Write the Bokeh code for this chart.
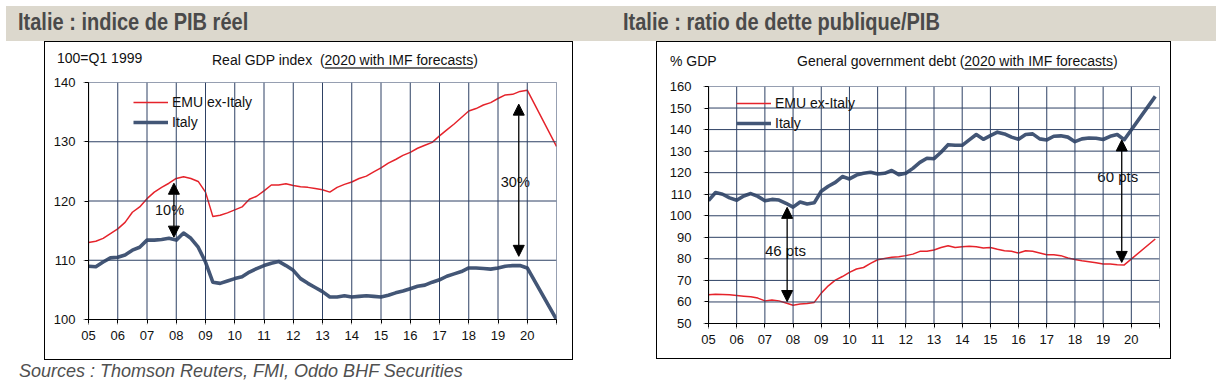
import numpy as np
from bokeh.plotting import figure
from bokeh.models import (Range1d, FixedTicker, Legend, LegendItem, Arrow,
                          NormalHead, Div, Spacer, ColumnDataSource)
from bokeh.layouts import column, row
from bokeh.embed import file_html
from bokeh.resources import INLINE
from bokeh.core.properties import value

FONT = "Liberation Sans"

# ---------------- data ----------------
x_ticks = list(range(5, 22))
x_tick_labels = ["05", "06", "07", "08", "09", "10", "11", "12",
                 "13", "14", "15", "16", "17", "18", "19", "20"]

series_names = ["EMU ex-Italy", "Italy"]

# Real GDP index, quarterly 2005 -> end 2019 (100 = Q1 1999)
gdp_emu = [113.0, 113.2, 113.7, 114.5, 115.3, 116.4, 118.1, 119.0, 120.4, 121.5, 122.3, 123.0,
           123.8, 124.1, 123.8, 123.3, 121.5, 117.4, 117.6, 118.0, 118.5, 119.0, 120.3, 120.8,
           121.7, 122.7, 122.7, 122.9, 122.6, 122.4, 122.3, 122.1, 121.9, 121.5, 122.3, 122.8,
           123.2, 123.8, 124.2, 124.9, 125.6, 126.4, 127.0, 127.7, 128.2, 128.9, 129.4, 129.9,
           131.0, 132.0, 133.0, 134.1, 135.2, 135.6, 136.2, 136.6, 137.3, 137.9, 138.0, 138.5,
           138.7]
gdp_italy = [109.0, 108.9, 109.7, 110.4, 110.5, 110.9, 111.7, 112.2, 113.4, 113.4, 113.5, 113.7,
             113.4, 114.6, 113.7, 112.2, 109.7, 106.3, 106.1, 106.5, 106.9, 107.2, 108.0, 108.6,
             109.1, 109.5, 109.8, 109.1, 108.3, 106.9, 106.1, 105.4, 104.7, 103.8, 103.8, 104.0,
             103.8, 103.9, 104.0, 103.9, 103.8, 104.1, 104.5, 104.8, 105.2, 105.6, 105.8, 106.3,
             106.7, 107.3, 107.7, 108.1, 108.7, 108.7, 108.6, 108.5, 108.7, 109.0, 109.1, 109.1,
             108.7]
gdp_forecast_emu = 129.2      # 2020, IMF forecast
gdp_forecast_italy = 100.0
gdp_quarters = list(5 + np.arange(len(gdp_emu)) / 4)
gdp_forecast_x = 21.0

# General government debt, % GDP
debt_emu = [63.3, 63.6, 63.5, 63.3, 63.0, 62.7, 62.4, 61.8, 60.5, 60.9, 60.5, 59.5,
            58.5, 59.0, 59.3, 59.8, 64.1, 67.5, 70.1, 71.8, 73.7, 75.3, 76.0, 77.9,
            79.6, 80.2, 80.7, 81.0, 81.5, 82.2, 83.5, 83.5, 84.1, 85.3, 86.1, 85.3,
            85.6, 85.9, 85.6, 85.0, 85.3, 84.5, 83.8, 83.5, 82.7, 83.8, 83.5, 82.7,
            81.9, 81.9, 81.5, 80.4, 79.7, 79.1, 78.7, 78.2, 77.6, 77.6, 77.3, 77.2]
debt_italy = [107.0, 110.8, 110.0, 108.3, 107.2, 109.2, 110.3, 109.0, 107.0, 107.6, 107.3, 105.8,
              104.0, 106.4, 105.5, 106.0, 111.4, 113.7, 115.5, 118.2, 117.1, 118.9, 119.7, 120.2,
              119.4, 119.7, 121.0, 119.1, 119.7, 122.0, 124.8, 126.7, 126.5, 129.5, 133.0, 132.7,
              132.7, 135.2, 137.7, 135.5, 137.2, 138.8, 138.0, 136.5, 135.5, 137.7, 138.0, 135.7,
              135.2, 136.9, 137.1, 136.5, 134.4, 135.7, 136.1, 136.0, 135.4, 136.9, 137.7, 135.3]
debt_forecast_emu = 89.2
debt_forecast_italy = 155.4
debt_quarters = list(5 + np.arange(len(debt_emu)) / 4)
debt_forecast_x = 20.85

# annotations (gap arrows)
gdp_arrow_x = [7.92, 19.71]
gdp_arrow_top = [123.0, 136.35]
gdp_arrow_bottom = [113.9, 110.66]
gdp_gap_text = ["10%", "30%"]
gdp_gap_x = [7.77, 19.59]
gdp_gap_y = [118.4, 123.2]

debt_arrow_x = [7.79, 19.66]
debt_arrow_top = [103.9, 135.2]
debt_arrow_bottom = [60.2, 78.35]
debt_gap_text = ["46 pts", "60 pts"]
debt_gap_x = [7.73, 19.52]
debt_gap_y = [84.1, 118.2]

gdp_y_ticks = [100, 110, 120, 130, 140]
debt_y_ticks = [50, 60, 70, 80, 90, 100, 110, 120, 130, 140, 150, 160]

# ---------------- styles ----------------
RED = "#e5232b"
BLUE = "#435676"
GRID = "#2e4164"
FRAME_H = 237


def rule(p, xs, ys, xe, ye, color, width):
    """A straight rule drawn as an Arrow annotation with invisible, tiny heads."""
    head = dict(size=0.6, fill_alpha=0, line_alpha=0)
    p.add_layout(Arrow(x_start=xs, y_start=ys, x_end=xe, y_end=ye,
                       start=NormalHead(**head), end=NormalHead(**head),
                       line_color=color, line_width=width))


def make_chart(width, height, borders, y_range, y_ticks, quarters, emu, italy,
               fx, f_emu, f_italy, ax, atop, abot, gtext, gx, gy, gsize,
               legend_loc, ystandoff):
    x0, x1 = x_ticks[0], x_ticks[-1]
    y0, y1 = y_range
    frame_w = width - borders[0] - borders[1]
    ux = (x1 - x0) / frame_w          # data units per pixel
    uy = (y1 - y0) / FRAME_H
    p = figure(width=width, height=height, output_backend="svg", toolbar_location=None,
               x_range=Range1d(x0, x1), y_range=Range1d(y0, y1),
               min_border_left=borders[0], min_border_right=borders[1],
               min_border_top=borders[2], min_border_bottom=borders[3])
    p.outline_line_color = None
    p.grid.visible = False

    # grid lines, frame edges, axis lines and outward ticks
    for t in x_ticks[1:]:
        rule(p, t, y0, t, y1, GRID, 1)
    for t in y_ticks[1:]:
        rule(p, x0, t, x1, t, GRID, 1)
    rule(p, x0, y0, x0, y1, "black", 1.2)
    rule(p, x0, y0, x1, y0, "black", 1.2)
    for t in x_ticks:
        rule(p, t, y0, t, y0 - 5 * uy, "black", 1)
    for t in y_ticks:
        rule(p, x0, t, x0 - 5 * ux, t, "black", 1)

    p.xaxis.ticker = FixedTicker(ticks=x_ticks)
    p.xaxis.major_label_overrides = {t: lab for t, lab in zip(x_ticks, x_tick_labels + [""])}
    p.yaxis.ticker = FixedTicker(ticks=y_ticks)
    for a in (p.xaxis, p.yaxis):
        a.axis_line_color = "black"
        a.axis_line_width = 1
        a.major_tick_line_color = "black"
        a.major_tick_in = 0
        a.major_tick_out = 4
        a.minor_tick_line_color = None
        a.major_label_text_font = FONT
        a.major_label_text_font_size = "13px"
        a.major_label_text_color = "#111111"
    p.xaxis.major_label_standoff = 7
    p.yaxis.major_label_standoff = ystandoff

    src_emu = ColumnDataSource(dict(x=quarters + [fx], y=emu + [f_emu]))
    src_ita = ColumnDataSource(dict(x=quarters + [fx], y=italy + [f_italy]))
    r_ita = p.line("x", "y", source=src_ita, line_color=BLUE, line_width=3.6, line_join="round")
    r_emu = p.line("x", "y", source=src_emu, line_color=RED, line_width=1.5, line_join="round")

    for xa, yt, yb in zip(ax, atop, abot):
        p.add_layout(Arrow(x_start=xa, y_start=yb, x_end=xa, y_end=yt,
                           start=NormalHead(size=11, fill_color="black", line_color="black"),
                           end=NormalHead(size=11, fill_color="black", line_color="black"),
                           line_color="black", line_width=1.3))
    p.text(x=gx, y=gy, text=gtext, text_align="center", text_baseline="middle",
           text_font=value(FONT), text_font_size=gsize, text_color="#111111")

    legend = Legend(items=[LegendItem(label=series_names[0], renderers=[r_emu]),
                           LegendItem(label=series_names[1], renderers=[r_ita])],
                    location=legend_loc)
    legend.background_fill_alpha = 0
    legend.border_line_alpha = 0
    legend.padding = 0
    legend.margin = 0
    legend.spacing = 0
    legend.glyph_width = 35
    legend.glyph_height = 20
    legend.label_height = 20
    legend.label_standoff = 4
    legend.label_text_font = FONT
    legend.label_text_font_size = "14px"
    legend.label_text_color = "#111111"
    p.add_layout(legend)
    return p


p_gdp = make_chart(527, 287, (43, 16, 10, 40), (100, 140), gdp_y_ticks, gdp_quarters,
                   gdp_emu, gdp_italy, gdp_forecast_x, gdp_forecast_emu, gdp_forecast_italy,
                   gdp_arrow_x, gdp_arrow_top, gdp_arrow_bottom, gdp_gap_text, gdp_gap_x, gdp_gap_y,
                   "14.5px", (45, 187), 9)
p_debt = make_chart(513, 286, (51, 11, 14, 35), (50, 160), debt_y_ticks, debt_quarters,
                    debt_emu, debt_italy, debt_forecast_x, debt_forecast_emu, debt_forecast_italy,
                    debt_arrow_x, debt_arrow_top, debt_arrow_bottom, debt_gap_text, debt_gap_x, debt_gap_y,
                    "15px", (28, 190), 13)

FONTCSS = "font-family:'Liberation Sans',Arial,sans-serif;"
UL = "text-decoration:underline;text-decoration-color:#6e6e6e;text-decoration-thickness:2px;text-underline-offset:2px;"
SPAN = "position:absolute;white-space:nowrap;line-height:14px;"
TSPAN = ("position:absolute;top:5px;line-height:23px;white-space:nowrap;"
         "transform:scaleX(0.87);transform-origin:0 0;")

header = Div(width=1216, height=41, margin=0, text=(
    f'<div style="position:absolute;left:6px;top:6px;width:1210px;height:35px;background:#dcd8cd;{FONTCSS}'
    'font-weight:bold;font-size:23px;color:#4a4a4a;">'
    f'<span style="{TSPAN}left:12px;">Italie : indice de PIB réel</span>'
    f'<span style="{TSPAN}left:617px;">Italie : ratio de dette publique/PIB</span>'
    '</div>'))

top_gdp = Div(width=527, height=30, margin=0, text=(
    f'<div style="position:relative;width:527px;height:30px;{FONTCSS}font-size:14px;color:#111;">'
    f'<span style="{SPAN}left:12px;top:9px;">100=Q1 1999</span>'
    f'<span style="{SPAN}left:167px;top:11px;">Real GDP index&nbsp; (<span style="{UL}">2020 with IMF forecasts</span>)</span>'
    '</div>'))
top_debt = Div(width=513, height=30, margin=0, text=(
    f'<div style="position:relative;width:513px;height:30px;{FONTCSS}font-size:14px;color:#111;">'
    f'<span style="{SPAN}left:13px;top:12px;">% GDP</span>'
    f'<span style="{SPAN}left:140px;top:12px;">General government debt (<span style="{UL}">2020 with IMF forecasts</span>)</span>'
    '</div>'))

box_gdp = column(top_gdp, p_gdp, styles={"border": "1px solid #000"})
box_debt = column(top_debt, p_debt, styles={"border": "1px solid #000"})

sources = Div(width=700, height=24, margin=0, text=(
    f'<div style="position:relative;width:700px;height:24px;{FONTCSS}font-size:18px;'
    'font-style:italic;color:#505050;">'
    '<span style="position:absolute;left:19px;top:2px;line-height:18px;white-space:nowrap;">'
    'Sources : Thomson Reuters, FMI, Oddo BHF Securities</span></div>'))

layout = column(header,
                row(Spacer(width=44, height=319), box_gdp, Spacer(width=83, height=319), box_debt),
                sources)

open("out.html", "w").write(file_html(layout, INLINE))
